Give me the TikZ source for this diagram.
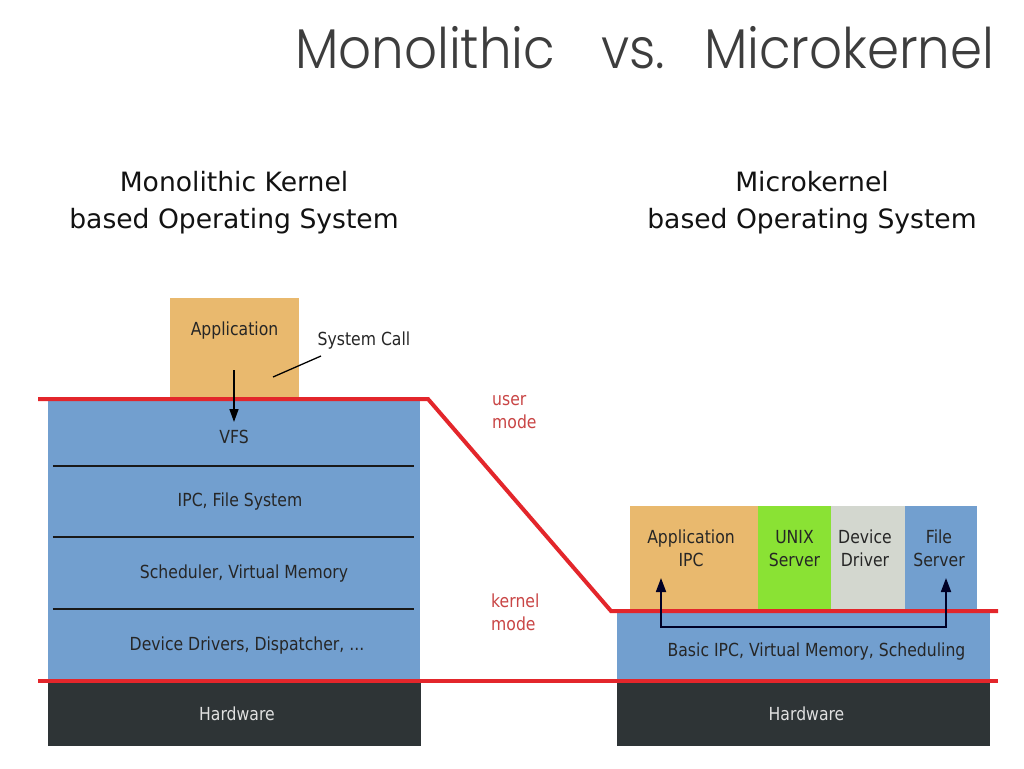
\documentclass[tikz,border=0pt]{standalone}
\usepackage{fontspec}
\setmainfont{DejaVu Sans}[FakeStretch=0.87]
\newfontfamily\headfont{DejaVu Sans}
\newfontfamily\titlefont{Poppins Light}[FakeStretch=0.92]
\usetikzlibrary{arrows.meta}
\definecolor{kblue}{HTML}{729FCF}
\definecolor{appc}{HTML}{E9B96E}
\definecolor{unixc}{HTML}{8AE234}
\definecolor{drvc}{HTML}{D3D7CF}
\definecolor{hwc}{HTML}{2E3436}
\definecolor{modered}{HTML}{E3262B}
\definecolor{modetext}{HTML}{C94545}
\tikzstyle{small} = [font=\fontsize{18}{23}\selectfont, text=black!85, align=center]
\tikzstyle{layer} = [small, fill=kblue, minimum width=372pt, inner sep=0pt]
\tikzstyle{hw} = [small, fill=hwc, minimum width=373pt, minimum height=64pt, text=white!88!black]
\tikzstyle{srv} = [minimum height=105pt, inner sep=0pt]
\tikzstyle{modeline} = [draw=modered, line width=4pt]
\tikzstyle{divider} = [draw=black!90, line width=1.6pt]
\tikzstyle{mode} = [small, text=modetext, align=left, anchor=north west, inner sep=0pt]
\tikzstyle{head} = [font=\headfont\fontsize{26.6}{37}\selectfont, text=black!93, align=center]
\tikzstyle{call} = [-{Triangle[length=13pt,width=9pt]}, line width=1.5pt]

\begin{document}
\begin{tikzpicture}[x=1pt,y=-1pt]
  \fill[white] (0,0) rectangle (1024,768);
  \useasboundingbox (0,0) rectangle (1024,768);
  \node[font=\titlefont\fontsize{56}{64}\selectfont, text=black!76, anchor=base west, inner sep=0pt](title) at (295,68){Monolithic\hspace{46pt}vs.\hspace{39pt}Microkernel};
  \node[head](monohead) at (234,203){Monolithic Kernel\\based Operating System};
  \node[head](microhead) at (812,203){Microkernel\\based Operating System};
  % monolithic stack
  \node[small, fill=appc, minimum width=129pt, minimum height=100pt, inner sep=0pt, text depth=38pt](app) at (234.5,348){Application};
  \node[layer, minimum height=68pt, label={[small, yshift=-5pt]center:VFS}](vfs) at (234,432){};
  \node[layer, minimum height=71pt, label={[small, xshift=6pt]center:IPC, File System}](ipcfs) at (234,501.5){};
  \node[layer, minimum height=72pt, label={[small, xshift=10pt, yshift=-1pt]center:Scheduler, Virtual Memory}](sched) at (234,573){};
  \node[layer, minimum height=71pt, label={[small, xshift=13pt, yshift=-1pt]center:Device Drivers, Dispatcher, ...}](drv) at (234,644.5){};
  \node[hw, label={[small, text=white!88!black, xshift=3pt]center:Hardware}](hwleft) at (234,714){};
  \draw[divider] ([xshift=5pt]vfs.south west) -- ([xshift=-6pt]vfs.south east);
  \draw[divider] ([xshift=5pt]ipcfs.south west) -- ([xshift=-6pt]ipcfs.south east);
  \draw[divider] ([xshift=5pt]sched.south west) -- ([xshift=-6pt]sched.south east);
  % microkernel stack
  \node[srv, fill=appc, minimum width=128pt, label={[small, xshift=-3pt, yshift=10pt]center:Application\\IPC}](appipc) at (694,558.5){};
  \node[srv, fill=unixc, minimum width=73pt, label={[small, yshift=10pt]center:UNIX\\Server}](unix) at (794.5,558.5){};
  \node[srv, fill=drvc, minimum width=74pt, label={[small, xshift=-3pt, yshift=10pt]center:Device\\Driver}](devdrv) at (868,558.5){};
  \node[srv, fill=kblue, minimum width=72pt, label={[small, xshift=-2pt, yshift=10pt]center:File\\Server}](filesrv) at (941,558.5){};
  \node[layer, minimum width=373pt, minimum height=70pt, label={[small, xshift=13pt, yshift=-6pt]center:Basic IPC, Virtual Memory, Scheduling}](ukern) at (803.5,646){};
  \node[hw, label={[small, text=white!88!black, xshift=3pt]center:Hardware}](hwright) at (803.5,714){};
  % mode borders
  \draw[modeline] (38,399) -- (428,399) -- (611,611) -- (998,611);
  \draw[modeline] (38,681) -- (998,681);
  \node[mode](usermode) at (492,395){user\\mode};
  \node[mode](kernelmode) at (491,594){kernel\\mode};
  % calls
  \coordinate (callstart) at (234,370);
  \coordinate (callend) at (234,422);
  \draw[call] (callstart) -- (callend);
  \node[small](syscall) at (364,341){System Call};
  \coordinate (callfoot) at (273,377);
  \coordinate (callhead) at (321,356);
  \draw[line width=1.3pt] (callfoot) -- (callhead);
  \coordinate (ipcin) at (661,578);
  \coordinate (fsin) at (946,578);
  \draw[{Triangle[length=14pt,width=10pt]}-{Triangle[length=14pt,width=10pt]}, line width=1.8pt, draw=black!85!blue] (ipcin) -- ++(0,49) -| (fsin);
\end{tikzpicture}
\end{document}
